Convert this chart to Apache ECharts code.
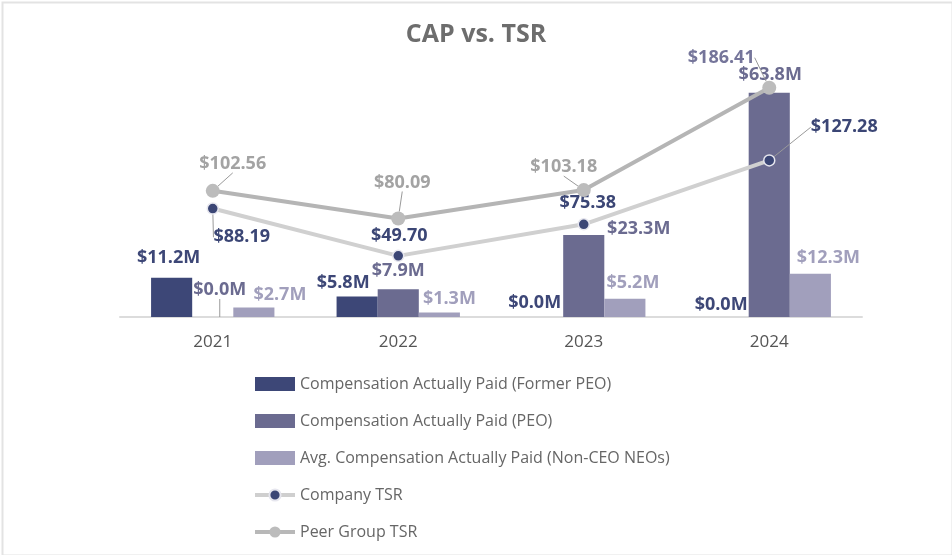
<!DOCTYPE html>
<html>
<head>
<meta charset="utf-8">
<script src="https://cdn.jsdelivr.net/npm/echarts@6/dist/echarts.min.js"></script>
<style>
html,body{margin:0;padding:0;background:#fff;}
#chart{width:952px;height:555px;}
</style>
</head>
<body>
<div id="chart"></div>
<script>
// ---- data ----
var years = ['2021', '2022', '2023', '2024'];
var formerPEO = [11.2, 5.8, 0.0, 0.0];
var peo = [0.0, 7.9, 23.3, 63.8];
var nonCEO = [2.7, 1.3, 5.2, 12.3];
var companyTSR = [88.19, 49.70, 75.38, 127.28];
var peerTSR = [102.56, 80.09, 103.18, 186.41];

// ---- label offsets (layout only) ----
var labelOffsets = [
  [[-3, -6], [-14, 0], [-8, 0], [-7, 2]],
  [[7, -13], [0, -4], [55, 8], [1, -4]],
  [[26, 1], [10, 0], [8, -2], [18, -2]],
  [[29, 49], [1, 0], [4, -1], [75, -13]],
  [[20, -6], [4, -15], [-20, -2], [-48, -9]]
];
var leaderLines = [
  [false, false, false, false],
  [true, false, false, false],
  [false, false, false, false],
  [true, false, false, true],
  [true, true, true, true]
];

var C_FORMER = '#3d4777';
var C_PEO = '#6b6b90';
var C_NON = '#a19fbc';
var C_NAVY = '#3b4675';
var C_PEER_LABEL = '#a3a3a3';

var FONT = '"Open Sans", "Noto Sans", sans-serif';

function mItems(arr, si) {
  return arr.map(function (v, i) {
    return { value: v, labelLine: { show: leaderLines[si][i] } };
  });
}
function tsrItems(arr, si, colors) {
  return arr.map(function (v, i) {
    var o = { value: v, labelLine: { show: leaderLines[si][i] } };
    if (colors && colors[i]) o.label = { color: colors[i] };
    return o;
  });
}
var moneyM = function (p) { return '$' + p.value.toFixed(1) + 'M'; };
var money2 = function (p) { return '$' + p.value.toFixed(2); };

var barLabel = function (color) {
  return { show: true, position: 'top', distance: 5, color: color, fontFamily: FONT, fontSize: 18, fontWeight: 'bold', formatter: moneyM };
};
var leader = { lineStyle: { color: '#9a9a9a', width: 1 } };

var chart = echarts.init(document.getElementById('chart'), null, { renderer: 'canvas' });
chart.setOption({
  backgroundColor: '#ffffff',
  animation: false,
  title: {
    text: 'CAP vs. TSR', left: 'center', top: 17,
    textStyle: { color: '#6d6d6d', fontFamily: FONT, fontSize: 25, fontWeight: 'bold' }
  },
  graphic: [{
    type: 'rect', left: 0, top: 0, silent: true,
    shape: { x: 1, y: 1, width: 950, height: 553 },
    style: { fill: 'none', stroke: '#e3e3e3', lineWidth: 2 }
  }],
  legend: {
    orient: 'vertical', left: 248, top: 371,
    itemWidth: 40, itemHeight: 14, itemGap: 21,
    textStyle: { color: '#666666', fontFamily: FONT, fontSize: 16 },
    data: [
      { name: 'Compensation Actually Paid (Former PEO)', icon: 'rect' },
      { name: 'Compensation Actually Paid (PEO)', icon: 'rect' },
      { name: 'Avg. Compensation Actually Paid (Non-CEO NEOs)', icon: 'rect' },
      { name: 'Company TSR', lineStyle: { width: 4, color: '#cfcfcf' } },
      { name: 'Peer Group TSR', lineStyle: { width: 4, color: '#b8b8b8' } }
    ]
  },
  grid: { left: 120, right: 90, top: 71, bottom: 238, containLabel: false },
  xAxis: {
    type: 'category', data: years,
    axisTick: { show: false },
    axisLine: { lineStyle: { color: '#dcdcdc', width: 2 } },
    axisLabel: { color: '#555555', fontFamily: FONT, fontSize: 17, margin: 17 }
  },
  yAxis: [
    { type: 'value', min: 0, max: 70, show: false, splitLine: { show: false } },
    { type: 'value', min: 0, max: 200, show: false, splitLine: { show: false } }
  ],
  labelLayout: function (params) {
    var o = labelOffsets[params.seriesIndex][params.dataIndex];
    return { dx: o[0], dy: o[1] };
  },
  series: [
    {
      name: 'Compensation Actually Paid (Former PEO)', type: 'bar', yAxisIndex: 0,
      barGap: '0%', barCategoryGap: '33.5%',
      itemStyle: { color: C_FORMER },
      label: barLabel(C_FORMER), labelLine: leader,
      data: mItems(formerPEO, 0)
    },
    {
      name: 'Compensation Actually Paid (PEO)', type: 'bar', yAxisIndex: 0,
      barGap: '0%', barCategoryGap: '33.5%',
      itemStyle: { color: C_PEO },
      label: barLabel(C_PEO), labelLine: leader,
      data: mItems(peo, 1)
    },
    {
      name: 'Avg. Compensation Actually Paid (Non-CEO NEOs)', type: 'bar', yAxisIndex: 0,
      barGap: '0%', barCategoryGap: '33.5%',
      itemStyle: { color: C_NON },
      label: barLabel(C_NON), labelLine: leader,
      data: mItems(nonCEO, 2)
    },
    {
      name: 'Company TSR', type: 'line', yAxisIndex: 1, z: 5,
      symbol: 'circle', symbolSize: 11,
      lineStyle: { color: '#d0d0d0', width: 4 },
      itemStyle: { color: C_NAVY, borderColor: '#e6e6ee', borderWidth: 1.5 },
      label: { show: true, position: 'top', distance: 5, color: C_NAVY, fontFamily: FONT, fontSize: 18, fontWeight: 'bold', formatter: money2 },
      labelLine: leader,
      data: tsrItems(companyTSR, 3)
    },
    {
      name: 'Peer Group TSR', type: 'line', yAxisIndex: 1, z: 6,
      symbol: 'circle', symbolSize: 14,
      lineStyle: { color: '#b5b5b5', width: 4 },
      itemStyle: { color: '#bcbcbc' },
      label: { show: true, position: 'top', distance: 5, color: C_PEER_LABEL, fontFamily: FONT, fontSize: 18, fontWeight: 'bold', formatter: money2 },
      labelLine: leader,
      data: tsrItems(peerTSR, 4, [null, null, null, '#75759a'])
    }
  ]
});
</script>
</body>
</html>
